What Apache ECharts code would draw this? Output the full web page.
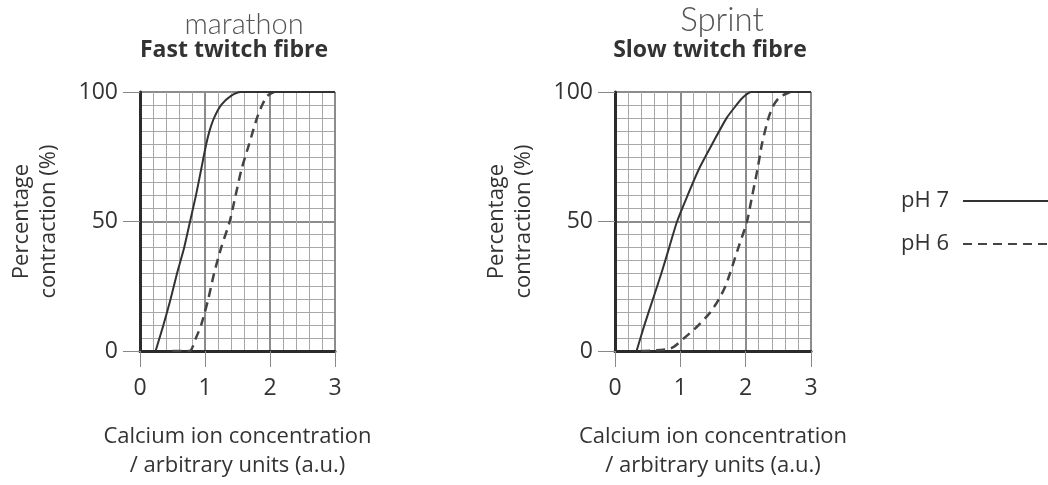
<!DOCTYPE html>
<html>
<head>
<meta charset="utf-8">
<title>Calcium ion concentration vs contraction</title>
<script src="https://cdn.jsdelivr.net/npm/echarts@6/dist/echarts.min.js"></script>
<style>
  html, body { margin: 0; padding: 0; background: #fff; }
  #chart { width: 1048px; height: 485px; }
</style>
</head>
<body>
<div id="chart"></div>
<script>
// [calcium ion concentration (a.u.), percentage contraction (%)]
const fastPh7 = [[0.24, 0], [0.36, 10], [0.47, 20], [0.57, 30], [0.68, 40], [0.77, 50], [0.86, 60], [0.94, 70],
  [1.02, 80], [1.07, 85], [1.14, 90], [1.25, 95], [1.4, 98.5], [1.55, 100], [3, 100]];
const fastPh6 = [[0.5, 0], [0.76, 0], [0.86, 5], [0.94, 10], [1.05, 20], [1.14, 30], [1.25, 40], [1.38, 50],
  [1.47, 60], [1.56, 70], [1.68, 80], [1.8, 90], [1.88, 95], [1.96, 98.5], [2.06, 100]];
const slowPh7 = [[0.33, 0], [0.45, 10], [0.58, 20], [0.71, 30], [0.83, 40], [0.95, 50], [1.11, 60], [1.28, 70],
  [1.49, 80], [1.71, 90], [1.86, 95], [1.96, 98], [2.09, 100], [3, 100]];
const slowPh6 = [[0.4, 0], [0.85, 1], [1.06, 5], [1.28, 10], [1.46, 15], [1.59, 20], [1.69, 25], [1.76, 30],
  [1.89, 40], [2.02, 50], [2.1, 60], [2.18, 70], [2.25, 80], [2.35, 90], [2.43, 95], [2.52, 98], [2.68, 100]];

const panelTitles = ['Fast twitch fibre', 'Slow twitch fibre'];
const notes = ['marathon', 'Sprint'];
const seriesNames = ['pH 7', 'pH 6'];
const xTicks = [0, 1, 2, 3];
const yTicks = [0, 50, 100];

const font = '"Open Sans", sans-serif';
const ink = '#333';

function xAxisFor(i) {
  return {
    type: 'value',
    gridIndex: i,
    min: xTicks[0],
    max: xTicks[xTicks.length - 1],
    interval: 1,
    name: 'Calcium ion concentration\n/ arbitrary units (a.u.)',
    nameLocation: 'middle',
    nameGap: 71,
    nameTextStyle: { fontFamily: font, fontSize: 22, lineHeight: 29, color: ink },
    axisLine: { onZero: false, lineStyle: { color: '#2b2b2b', width: 3 } },
    axisTick: { length: 16, lineStyle: { color: '#888', width: 1 } },
    axisLabel: { fontFamily: font, fontSize: 23, color: ink, margin: 26 },
    splitLine: { lineStyle: { color: '#8c8c8c', width: 2 } },
    minorTick: { show: false, splitNumber: 5 },
    minorSplitLine: { show: true, lineStyle: { color: '#a8a8a8', width: 1 } }
  };
}

function yAxisFor(i) {
  return {
    type: 'value',
    gridIndex: i,
    min: yTicks[0],
    max: yTicks[yTicks.length - 1],
    interval: 50,
    name: 'Percentage\ncontraction (%)',
    nameLocation: 'middle',
    nameGap: 78,
    nameTextStyle: { fontFamily: font, fontSize: 22, lineHeight: 27, color: ink },
    axisLine: { onZero: false, lineStyle: { color: '#2b2b2b', width: 3 } },
    axisTick: { length: 17, lineStyle: { color: '#888', width: 1 } },
    axisLabel: { fontFamily: font, fontSize: 23, color: ink, margin: 22 },
    splitLine: { lineStyle: { color: '#8c8c8c', width: 2 } },
    minorTick: { show: false, splitNumber: 10 },
    minorSplitLine: { show: true, lineStyle: { color: '#a8a8a8', width: 1 } }
  };
}

function lineSeries(name, data, i, dashed) {
  return {
    name: name,
    type: 'line',
    xAxisIndex: i,
    yAxisIndex: i,
    data: data,
    smooth: 0.25,
    symbol: 'none',
    silent: true,
    lineStyle: dashed
      ? { color: '#444', width: 2.5, type: [9, 6] }
      : { color: '#333', width: 2 },
    itemStyle: { color: dashed ? '#444' : '#333' }
  };
}

const myChart = echarts.init(document.getElementById('chart'));
myChart.setOption({
  backgroundColor: '#fff',
  animation: false,
  title: [
    { text: panelTitles[0], left: 234, top: 39, padding: 0, textAlign: 'center',
      textStyle: { fontFamily: font, fontSize: 23, fontWeight: 'bold', color: ink } },
    { text: panelTitles[1], left: 710, top: 39, padding: 0, textAlign: 'center',
      textStyle: { fontFamily: font, fontSize: 23, fontWeight: 'bold', color: ink } },
    { text: notes[0], left: 244, top: 10, padding: 0, textAlign: 'center',
      textStyle: { fontFamily: 'Lato, sans-serif', fontSize: 29, fontWeight: 300, color: '#555' } },
    { text: notes[1], left: 722, top: 4, padding: 0, textAlign: 'center',
      textStyle: { fontFamily: 'Lato, sans-serif', fontSize: 33, fontWeight: 300, color: '#555' } }
  ],
  legend: {
    data: seriesNames,
    orient: 'vertical',
    left: 896,
    top: 184,
    align: 'right',
    itemWidth: 87,
    itemHeight: 14,
    itemGap: 19,
    selectedMode: false,
    itemStyle: { color: 'rgba(0,0,0,0)', borderColor: 'rgba(0,0,0,0)', borderWidth: 0 },
    lineStyle: { width: 2 },
    textStyle: { fontFamily: font, fontSize: 22, lineHeight: 24, color: ink, padding: [0, 9, 0, 0] }
  },
  grid: [
    { left: 140, top: 92, width: 195, height: 262 },
    { left: 615, top: 92, width: 196, height: 262 }
  ],
  xAxis: [xAxisFor(0), xAxisFor(1)],
  yAxis: [yAxisFor(0), yAxisFor(1)],
  series: [
    lineSeries(seriesNames[1], fastPh6, 0, true),
    lineSeries(seriesNames[0], fastPh7, 0, false),
    lineSeries(seriesNames[1], slowPh6, 1, true),
    lineSeries(seriesNames[0], slowPh7, 1, false)
  ]
});
</script>
</body>
</html>
